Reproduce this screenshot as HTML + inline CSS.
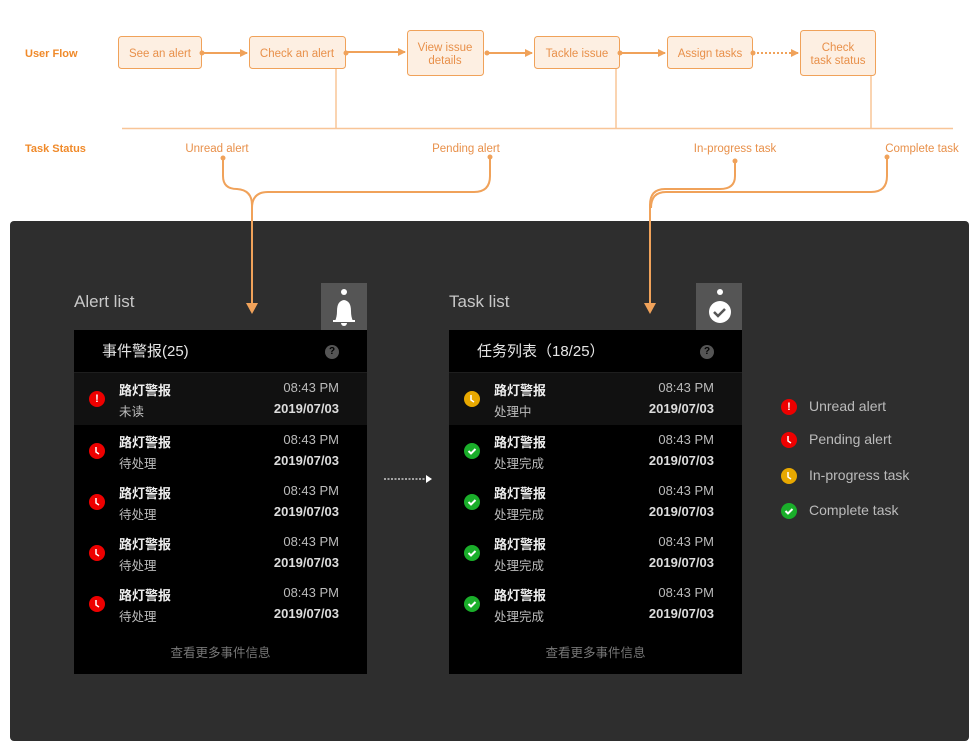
<!DOCTYPE html>
<html><head><meta charset="utf-8"><style>
*{margin:0;padding:0;box-sizing:border-box}
body{width:979px;height:737px;background:#fff;position:relative;overflow:hidden;font-family:"Liberation Sans","Noto Sans CJK SC",sans-serif}
.a{position:absolute}
.dark{left:10px;top:221px;width:959px;height:520px;background:#2e2e2e;border-radius:4px}
.ttl{color:#c8c8c8;font-size:17px}
.pnl{background:#000;width:293px;height:344px;top:330px}
.hd{height:43px;border-bottom:1px solid #1e1e1e;color:#e6e6e6;font-size:15px;line-height:43px;padding-left:28px;position:relative}
.q{position:absolute;right:28px;top:15px;width:14px;height:14px;border-radius:50%;background:#555;color:#000;font-size:10px;line-height:14px;text-align:center;font-weight:bold}
.row{height:51px;position:relative}
.row.f{background:#111;height:52px}
.row .t{position:absolute;left:45px;top:7px;color:#eee;font-size:13px;font-weight:bold}
.row .s{position:absolute;left:45px;top:28px;color:#bbb;font-size:12.5px}
.row .tm{position:absolute;right:28px;top:7px;color:#bbb;font-size:13px}
.row .dt{position:absolute;right:28px;top:28px;color:#ddd;font-size:13px;font-weight:bold}
.ic{position:absolute;left:15px;top:18px;width:16px;height:16px;border-radius:50%}
.more{text-align:center;color:#777;font-size:12.5px;margin-top:13px}
.lg{color:#bbb;font-size:14px}
</style></head><body>
<svg class="a" style="left:0;top:0" width="979" height="320">
<defs><marker id="ar" markerWidth="8" markerHeight="8" refX="7" refY="4" orient="auto" markerUnits="userSpaceOnUse"><path d="M0,0 L8,4 L0,8z" fill="#f0a25a"/></marker></defs>
<g font-family="Liberation Sans, sans-serif">
<text x="25" y="57" fill="#f08a2a" font-size="11" font-weight="bold">User Flow</text>
<text x="25" y="152" fill="#f08a2a" font-size="11" font-weight="bold">Task Status</text>
<g stroke="#f8c597" stroke-width="1.5" fill="none">
<line x1="122" y1="128.5" x2="953" y2="128.5"/><line x1="336" y1="68" x2="336" y2="128"/><line x1="616" y1="68" x2="616" y2="128"/><line x1="871" y1="75" x2="871" y2="128"/></g>
<g fill="#fdefe2" stroke="#f0a25a" stroke-width="1">
<rect x="118.5" y="36.5" width="83" height="32" rx="3"/><rect x="249.5" y="36.5" width="96" height="32" rx="3"/><rect x="407.5" y="30.5" width="76" height="45" rx="3"/><rect x="534.5" y="36.5" width="85" height="32" rx="3"/><rect x="667.5" y="36.5" width="85" height="32" rx="3"/><rect x="800.5" y="30.5" width="75" height="45" rx="3"/></g>
<g fill="#e8904a" font-size="11.5" text-anchor="middle">
<text x="160" y="57">See an alert</text><text x="297" y="57">Check an alert</text><text x="445" y="51">View issue</text><text x="445" y="64">details</text><text x="577" y="57">Tackle issue</text><text x="710" y="57">Assign tasks</text><text x="838" y="51">Check</text><text x="838" y="64">task status</text>
<text x="217" y="152">Unread alert</text><text x="466" y="152">Pending alert</text><text x="735" y="152">In-progress task</text><text x="922" y="152">Complete task</text></g>
<g stroke="#f0a25a" stroke-width="2" fill="#f0a25a">
<line x1="202" y1="53" x2="247" y2="53" marker-end="url(#ar)"/><line x1="346" y1="52" x2="405" y2="52" marker-end="url(#ar)"/><line x1="487" y1="53" x2="532" y2="53" marker-end="url(#ar)"/><line x1="620" y1="53" x2="665" y2="53" marker-end="url(#ar)"/><line x1="753" y1="53" x2="798" y2="53" stroke-dasharray="2,2" marker-end="url(#ar)"/>
<circle cx="202" cy="53" r="2.5" stroke="none"/><circle cx="346" cy="53" r="2.5" stroke="none"/><circle cx="487" cy="53" r="2.5" stroke="none"/><circle cx="620" cy="53" r="2.5" stroke="none"/><circle cx="753" cy="53" r="2.5" stroke="none"/>
<circle cx="223" cy="158" r="2.5" stroke="none"/><circle cx="490" cy="157" r="2.5" stroke="none"/><circle cx="735" cy="161" r="2.5" stroke="none"/><circle cx="887" cy="157" r="2.5" stroke="none"/></g>
<g stroke="#f0a25a" stroke-width="2" fill="none">
<path d="M223,158 V176 Q223,189 237,189 Q252,190 252,205 V221"/>
<path d="M490,157 V176 Q490,192 474,192 H268 Q252,192 252,208"/>
<path d="M735,161 V176 Q735,189 720,189 H665 Q650,189 650,205 V221"/>
<path d="M887,157 V176 Q887,192 871,192 H666 Q651,192 651,208"/></g>
</g></svg>
<div class="a dark"></div>
<svg class="a" style="left:0;top:221px" width="979" height="100"><g stroke="#f0a25a" stroke-width="2" fill="none"><path d="M252,0 V84"/><path d="M650,0 V84"/></g><path d="M246,82 L258,82 L252,93z" fill="#f0a25a"/><path d="M644,82 L656,82 L650,93z" fill="#f0a25a"/></svg>
<div class="a ttl" style="left:74px;top:292px">Alert list</div>
<div class="a ttl" style="left:449px;top:292px">Task list</div>
<div class="a" style="left:321px;top:283px;width:46px;height:47px;background:#555">
<svg width="46" height="47"><circle cx="23" cy="9" r="3" fill="#fff"/><path d="M14,38 Q16,34 16,28 Q16,18 23,17 Q30,18 30,28 Q30,34 32,38Z" fill="#fff"/><rect x="12" y="37" width="22" height="2" fill="#fff"/><path d="M20,40 h6 a3,3 0 0 1 -6,0z" fill="#fff"/></svg></div>
<div class="a" style="left:696px;top:283px;width:46px;height:47px;background:#555">
<svg width="46" height="47"><circle cx="24" cy="9" r="3" fill="#fff"/><circle cx="24" cy="29" r="11" fill="#fff"/><path d="M18,29 l4,4 l7,-7" stroke="#555" stroke-width="2.5" fill="none"/></svg></div>

<div class="a pnl" style="left:74px">
<div class="hd">事件警报(25)<span class="q">?</span></div>
<div class="row f"><span class="ic" style="background:#e00;color:#fff;font-size:11px;font-weight:bold;text-align:center;line-height:16px">!</span><span class="t">路灯警报</span><span class="s">未读</span><span class="tm">08:43 PM</span><span class="dt">2019/07/03</span></div>
<div class="row"><span class="ic" style="background:#e00"><svg width="16" height="16"><path d="M7,4 V9 L10,11" stroke="#fff" stroke-width="1.5" fill="none"/></svg></span><span class="t">路灯警报</span><span class="s">待处理</span><span class="tm">08:43 PM</span><span class="dt">2019/07/03</span></div>
<div class="row"><span class="ic" style="background:#e00"><svg width="16" height="16"><path d="M7,4 V9 L10,11" stroke="#fff" stroke-width="1.5" fill="none"/></svg></span><span class="t">路灯警报</span><span class="s">待处理</span><span class="tm">08:43 PM</span><span class="dt">2019/07/03</span></div>
<div class="row"><span class="ic" style="background:#e00"><svg width="16" height="16"><path d="M7,4 V9 L10,11" stroke="#fff" stroke-width="1.5" fill="none"/></svg></span><span class="t">路灯警报</span><span class="s">待处理</span><span class="tm">08:43 PM</span><span class="dt">2019/07/03</span></div>
<div class="row"><span class="ic" style="background:#e00"><svg width="16" height="16"><path d="M7,4 V9 L10,11" stroke="#fff" stroke-width="1.5" fill="none"/></svg></span><span class="t">路灯警报</span><span class="s">待处理</span><span class="tm">08:43 PM</span><span class="dt">2019/07/03</span></div>
<div class="more">查看更多事件信息</div>
</div>

<div class="a pnl" style="left:449px">
<div class="hd">任务列表（18/25）<span class="q">?</span></div>
<div class="row f"><span class="ic" style="background:#e8a800"><svg width="16" height="16"><path d="M7,4 V9 L10,11" stroke="#fff" stroke-width="1.5" fill="none"/></svg></span><span class="t">路灯警报</span><span class="s">处理中</span><span class="tm">08:43 PM</span><span class="dt">2019/07/03</span></div>
<div class="row"><span class="ic" style="background:#1aae2a"><svg width="16" height="16"><path d="M4.5,8 l2.5,2.5 l4.5,-4.5" stroke="#fff" stroke-width="2" fill="none"/></svg></span><span class="t">路灯警报</span><span class="s">处理完成</span><span class="tm">08:43 PM</span><span class="dt">2019/07/03</span></div>
<div class="row"><span class="ic" style="background:#1aae2a"><svg width="16" height="16"><path d="M4.5,8 l2.5,2.5 l4.5,-4.5" stroke="#fff" stroke-width="2" fill="none"/></svg></span><span class="t">路灯警报</span><span class="s">处理完成</span><span class="tm">08:43 PM</span><span class="dt">2019/07/03</span></div>
<div class="row"><span class="ic" style="background:#1aae2a"><svg width="16" height="16"><path d="M4.5,8 l2.5,2.5 l4.5,-4.5" stroke="#fff" stroke-width="2" fill="none"/></svg></span><span class="t">路灯警报</span><span class="s">处理完成</span><span class="tm">08:43 PM</span><span class="dt">2019/07/03</span></div>
<div class="row"><span class="ic" style="background:#1aae2a"><svg width="16" height="16"><path d="M4.5,8 l2.5,2.5 l4.5,-4.5" stroke="#fff" stroke-width="2" fill="none"/></svg></span><span class="t">路灯警报</span><span class="s">处理完成</span><span class="tm">08:43 PM</span><span class="dt">2019/07/03</span></div>
<div class="more">查看更多事件信息</div>
</div>

<svg class="a" style="left:380px;top:472px" width="60" height="14"><line x1="4" y1="7" x2="47" y2="7" stroke="#ccc" stroke-width="1.5" stroke-dasharray="2,1.5"/><path d="M46,3 L52,7 L46,11z" fill="#fff"/></svg>

<div class="a" style="left:781px;top:399px"><span class="a" style="left:0;top:0;width:16px;height:16px;border-radius:50%;background:#e00;color:#fff;font-size:11px;font-weight:bold;text-align:center;line-height:16px">!</span><span class="a lg" style="left:28px;top:-1px;white-space:nowrap">Unread alert</span></div>
<div class="a" style="left:781px;top:432px"><span class="a" style="left:0;top:0;width:16px;height:16px;border-radius:50%;background:#e00"><svg width="16" height="16"><path d="M7,4 V9 L10,11" stroke="#fff" stroke-width="1.5" fill="none"/></svg></span><span class="a lg" style="left:28px;top:-1px;white-space:nowrap">Pending alert</span></div>
<div class="a" style="left:781px;top:468px"><span class="a" style="left:0;top:0;width:16px;height:16px;border-radius:50%;background:#e8a800"><svg width="16" height="16"><path d="M7,4 V9 L10,11" stroke="#fff" stroke-width="1.5" fill="none"/></svg></span><span class="a lg" style="left:28px;top:-1px;white-space:nowrap">In-progress task</span></div>
<div class="a" style="left:781px;top:503px"><span class="a" style="left:0;top:0;width:16px;height:16px;border-radius:50%;background:#1aae2a"><svg width="16" height="16"><path d="M4.5,8 l2.5,2.5 l4.5,-4.5" stroke="#fff" stroke-width="2" fill="none"/></svg></span><span class="a lg" style="left:28px;top:-1px;white-space:nowrap">Complete task</span></div>
</body></html>
